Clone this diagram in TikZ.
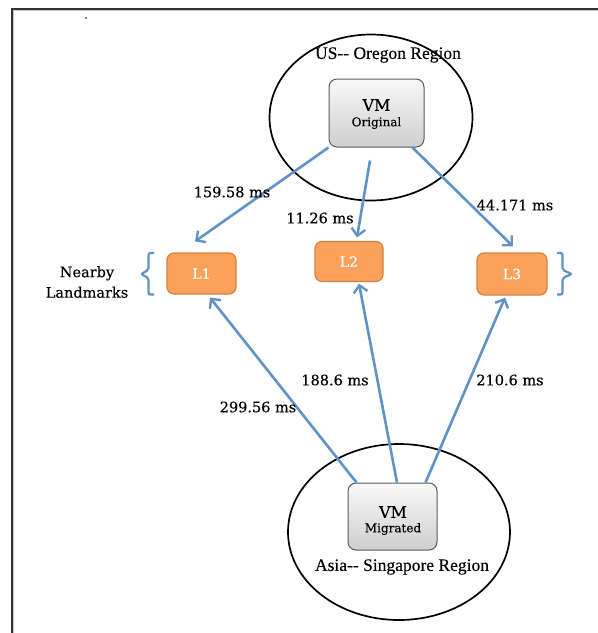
\documentclass[tikz,border=0pt]{standalone}
\usepackage{fontspec}
\setmainfont{Liberation Serif}[FakeBold=0.25]
\newfontfamily\labfont{DejaVu Serif}[FakeBold=0.3]
\usetikzlibrary{shapes.geometric,arrows.meta}
\definecolor{linkblue}{RGB}{96,146,198}
\definecolor{lmfill}{RGB}{250,162,92}
\definecolor{lmedge}{RGB}{214,130,62}
\definecolor{vmedge}{RGB}{90,90,90}
\tikzset{
  region/.style={ellipse, draw=black, line width=1.7pt, inner sep=0pt},
  regiontext/.style={font=\fontsize{17.5}{19}\selectfont, inner sep=0pt},
  vmbox/.style={rounded corners=8pt, draw=vmedge, line width=1pt,
    top color=gray!5, bottom color=gray!38, align=center, inner sep=0pt},
  lmbox/.style={rounded corners=7pt, draw=lmedge, line width=1.2pt, fill=lmfill,
    text=white, font=\labfont\fontsize{14}{16}\selectfont, inner sep=0pt},
  link/.style={draw=linkblue, line width=2.6pt,
    -{Straight Barb[length=7pt,width=14pt,line width=2.4pt]}},
  msl/.style={font=\labfont\fontsize{14.5}{16}\selectfont, inner sep=0pt},
  brace/.style={draw=linkblue, line width=2.2pt, rounded corners=2pt}
}
\begin{document}
\begin{tikzpicture}[x=1pt,y=-1pt]
\useasboundingbox (0,0) rectangle (598,633);

% page frame with a soft inner edge
\draw[gray!45, line width=1.2pt] (13.6,633) -- (13.6,10.6) -- (598,10.6);
\draw[black!80, line width=1.5pt] (12,633) -- (12,9) -- (598,9);
\fill[black] (86,18) circle (0.8pt);

% regions
\node[region, minimum width=203pt, minimum height=166pt] (oregon) at (371,117.5) {};
\node[regiontext] (oregontxt) at (388,55) {US{-}{-} Oregon Region};
\node[region, minimum width=222pt, minimum height=176pt] (singapore) at (399,532) {};
\node[regiontext] (singtxt) at (402,567) {Asia{-}{-} Singapore Region};

% virtual machines
\node[vmbox, minimum width=95pt, minimum height=68pt] (vmo) at (376.5,113) {};
\node[font=\labfont\fontsize{16}{18}\selectfont, inner sep=0pt] (vmoa) at (376.5,105) {VM};
\node[font=\labfont\fontsize{12}{13}\selectfont, inner sep=0pt] (vmob) at (376.5,123) {Original};

\node[vmbox, minimum width=89pt, minimum height=67pt] (vmm) at (392.5,516.5) {};
\node[font=\labfont\fontsize{16}{18}\selectfont, inner sep=0pt] (vmma) at (393,512) {VM};
\node[font=\labfont\fontsize{12}{13}\selectfont, inner sep=0pt] (vmmb) at (393,529) {Migrated};

% landmarks
\node[lmbox, minimum width=69pt, minimum height=41pt] (l1) at (201.5,273.5) {L1};
\node[lmbox, minimum width=68pt, minimum height=40pt] (l2) at (349,261.5) {L2};
\node[lmbox, minimum width=70pt, minimum height=42pt] (l3) at (512,274) {L3};

\node[font=\labfont\fontsize{14.5}{20.5}\selectfont, align=center, inner sep=0pt] (nearby) at (87,282) {Nearby\\Landmarks};

% braces around the landmark row
\draw[brace] (154,253) -- (148.5,253) -- (148.5,270) -- (141,274) -- (148.5,278) -- (148.5,294.5) -- (154,294.5);
\draw[brace] (557,253) -- (562.5,253) -- (562.5,270) -- (572,274) -- (562.5,278) -- (562.5,294.5) -- (557,294.5);

% original VM to landmarks
\draw[link] (vmo.south west) -- ([xshift=-6.5pt,yshift=11pt]l1.north);
\draw[link] ([xshift=-6.5pt,yshift=-13pt]vmo.south) -- ([xshift=8pt,yshift=3.5pt]l2.north);
\draw[link] ([xshift=-12pt]vmo.south east) -- ([xshift=1pt,yshift=6pt]l3.north);

% migrated VM to landmarks
\draw[link] ([xshift=9pt]vmm.north west) -- ([xshift=8.5pt,yshift=-3pt]l1.south);
\draw[link] ([xshift=4.5pt]vmm.north) -- ([xshift=10pt,yshift=-1.5pt]l2.south);
\draw[link] ([xshift=-12pt]vmm.north east) -- ([xshift=-7pt,yshift=-2pt]l3.south);

% latencies
\node[msl] (d1) at (232,192) {159.58 ms};
\node[msl] (d2) at (320,218) {11.26 ms};
\node[msl] (d3) at (515,205) {44.171 ms};
\node[msl] (d4) at (258,407) {299.56 ms};
\node[msl] (d5) at (335,380) {188.6 ms};
\node[msl] (d6) at (510,380) {210.6 ms};
\end{tikzpicture}
\end{document}
